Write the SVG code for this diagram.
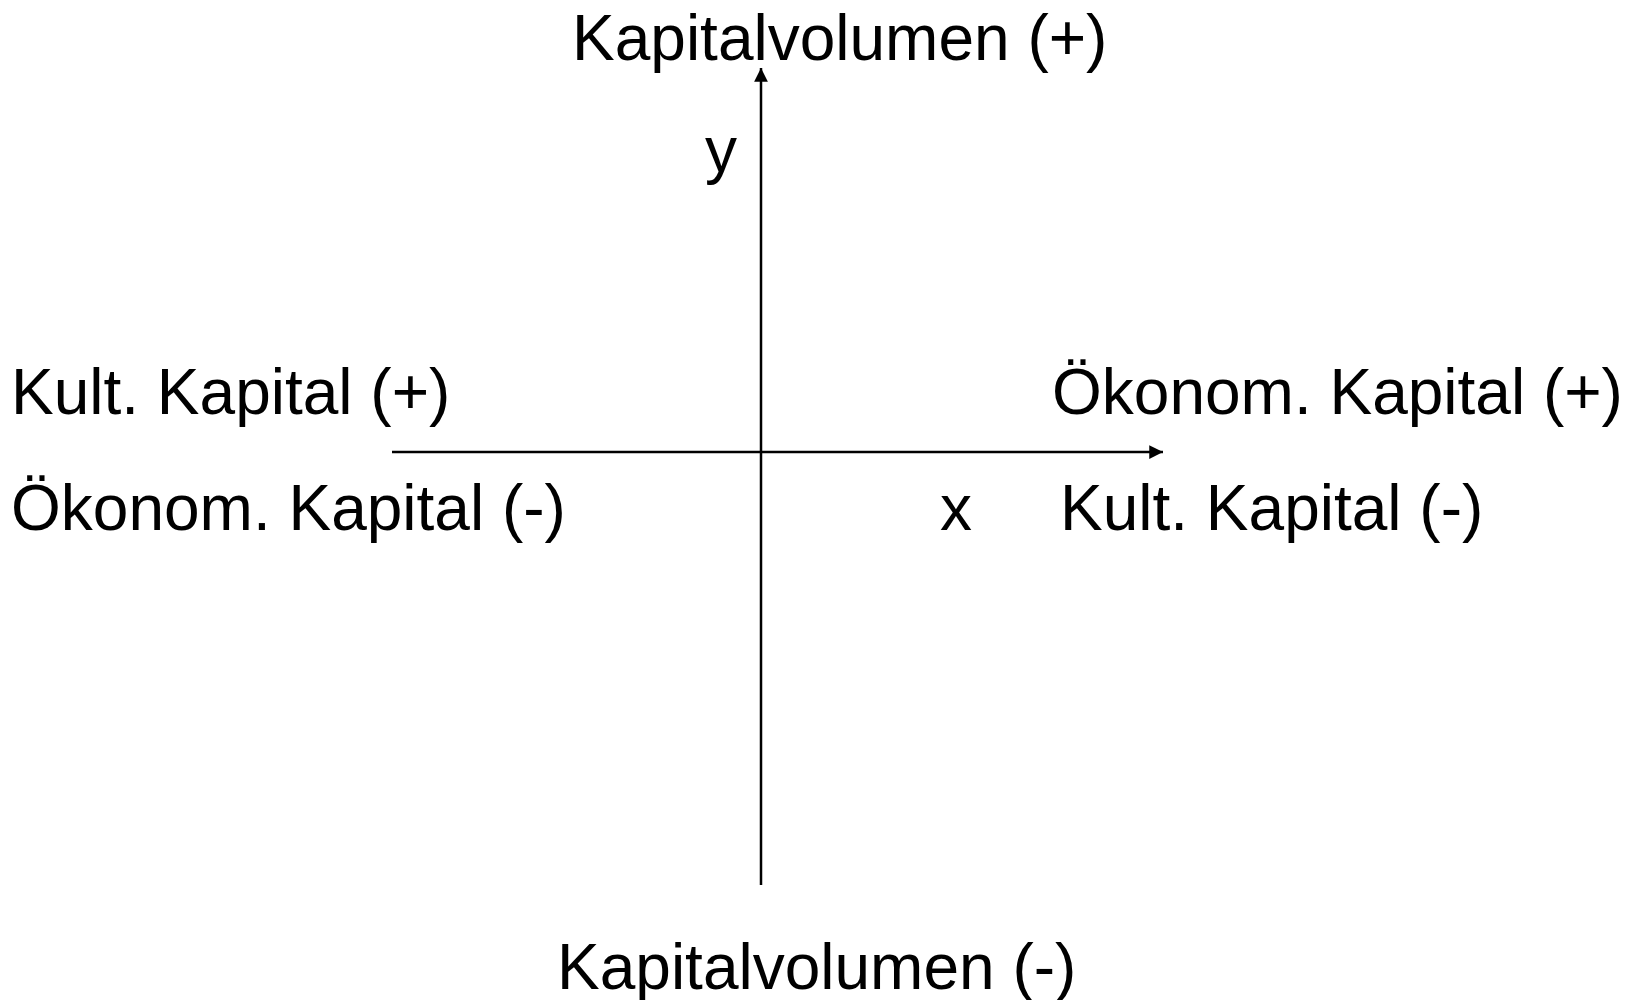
<svg xmlns="http://www.w3.org/2000/svg" width="1641" height="1000" viewBox="0 0 1641 1000">
<style>
text{font-family:"Liberation Sans",Arial,sans-serif;font-size:64px;fill:#000}
.ax{stroke:#000;stroke-width:2.5;fill:none}
</style>
<defs>
<marker id="ah" viewBox="0 0 10 10" refX="10" refY="5" markerWidth="6" markerHeight="5.5" markerUnits="strokeWidth" orient="auto">
<path d="M0,0 L10,5 L0,10 Z" fill="#000"/>
</marker>
</defs>
<rect width="1641" height="1000" fill="#fff"/>
<g id="connectors">
<line class="ax" x1="761" y1="885" x2="761" y2="68" marker-end="url(#ah)"/>
<line class="ax" x1="392" y1="452" x2="1163" y2="452" marker-end="url(#ah)"/>
</g>
<g id="top"><text x="572" y="60">Kapitalvolumen (+)</text></g>
<g id="bottom"><text x="557" y="989">Kapitalvolumen (-)</text></g>
<g id="ylabel"><text x="705" y="172">y</text></g>
<g id="xlabel"><text x="940" y="530">x</text></g>
<g id="left"><text x="11" y="414">Kult. Kapital (+)</text><text x="11" y="530">Ökonom. Kapital (-)</text></g>
<g id="right"><text x="1052" y="414">Ökonom. Kapital (+)</text><text x="1060" y="530">Kult. Kapital (-)</text></g>
</svg>
